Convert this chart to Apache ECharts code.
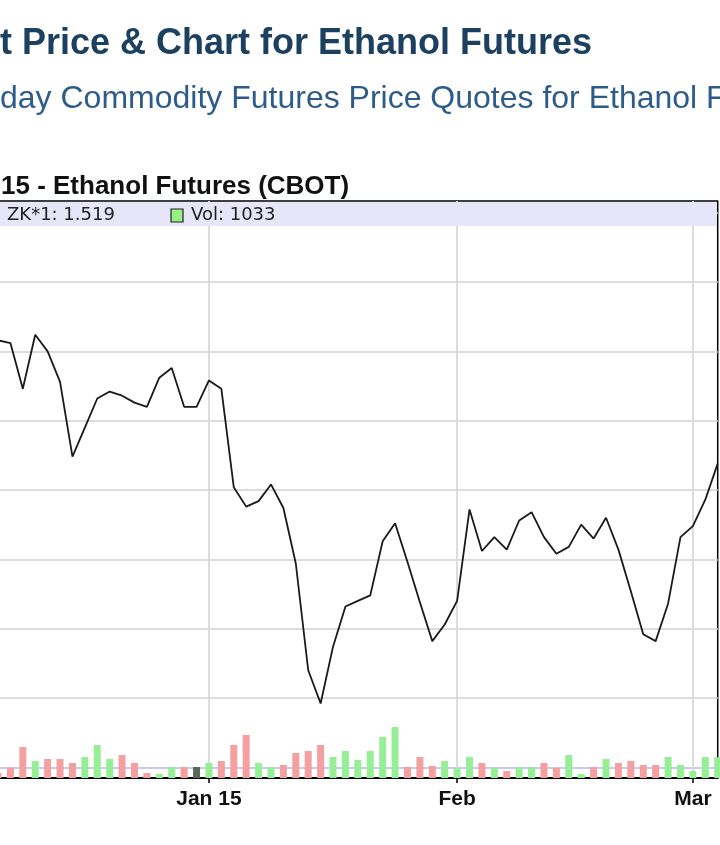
<!DOCTYPE html>
<html>
<head>
<meta charset="utf-8">
<script src="https://cdn.jsdelivr.net/npm/echarts@6/dist/echarts.min.js"></script>
<style>
  html, body { margin: 0; padding: 0; background: #fff; }
  #chart { width: 720px; height: 845px; }
</style>
</head>
<body>
<div id="chart"></div>
<script>
// trading days shown in the window (Dec 2014 - Mar 2015)
const dates = [
  '2014-12-08', '2014-12-09', '2014-12-10', '2014-12-11', '2014-12-12', '2014-12-15', '2014-12-16',
  '2014-12-17', '2014-12-18', '2014-12-19', '2014-12-22', '2014-12-23', '2014-12-24', '2014-12-26',
  '2014-12-29', '2014-12-30', '2014-12-31',
  '2015-01-02', '2015-01-05', '2015-01-06', '2015-01-07', '2015-01-08', '2015-01-09', '2015-01-12',
  '2015-01-13', '2015-01-14', '2015-01-15', '2015-01-16', '2015-01-20', '2015-01-21', '2015-01-22',
  '2015-01-23', '2015-01-26', '2015-01-27', '2015-01-28', '2015-01-29', '2015-01-30',
  '2015-02-02', '2015-02-03', '2015-02-04', '2015-02-05', '2015-02-06', '2015-02-09', '2015-02-10',
  '2015-02-11', '2015-02-12', '2015-02-13', '2015-02-17', '2015-02-18', '2015-02-19', '2015-02-20',
  '2015-02-23', '2015-02-24', '2015-02-25', '2015-02-26', '2015-02-27',
  '2015-03-02', '2015-03-03', '2015-03-04'
];

const prices = [
  1.608, 1.606, 1.573, 1.612, 1.600, 1.578, 1.524, 1.545, 1.566, 1.571, 1.568, 1.563, 1.560, 1.581,
  1.588, 1.560, 1.560,
  1.579, 1.573, 1.502, 1.488, 1.492, 1.504, 1.487, 1.447, 1.370, 1.346, 1.387, 1.416, 1.420, 1.424,
  1.463, 1.476, 1.448, 1.419, 1.391, 1.403,
  1.420, 1.486, 1.456, 1.466, 1.457, 1.478, 1.484, 1.466, 1.454, 1.459, 1.475, 1.465, 1.480, 1.457,
  1.427, 1.396, 1.391, 1.418, 1.466,
  1.474, 1.493, 1.519
];

const volumes = [
  250, 530, 1550, 850, 950, 950, 750, 1050, 1650, 950, 1150, 750, 250, 200, 550, 550, 550,
  750, 850, 1650, 2150, 750, 550, 650, 1250, 1350, 1650, 1050, 1350, 900, 1350, 2050, 2550, 550,
  1050, 600, 850,
  500, 1050, 750, 500, 350, 550, 550, 750, 500, 1150, 200, 550, 950, 750, 850, 650, 650, 1050, 650,
  350, 1050, 1033
];

const tickDates = ['2015-01-02', '2015-02-02', '2015-03-02'];
const tickLabels = ['Jan 15', 'Feb', 'Mar'];

const chart = echarts.init(document.getElementById('chart'));

const isMonthStart = (index, value) => tickDates.indexOf(dates[index]) >= 0;

const barColor = (params) => {
  const i = params.dataIndex;
  if (i === 0) return '#f4a0a0';
  if (prices[i] > prices[i - 1]) return '#96ee96';
  if (prices[i] < prices[i - 1]) return '#f4a0a0';
  return '#5a6a5a';
};

const lastPrice = prices[prices.length - 1];
const lastVol = volumes[volumes.length - 1];

chart.setOption({
  animation: false,
  backgroundColor: '#fff',
  title: [
    {
      text: 't Price & Chart for Ethanol Futures',
      left: 0, top: 26, padding: 0,
      textStyle: { fontFamily: 'Liberation Sans', fontWeight: 'bold', fontSize: 36, color: '#1c4160' }
    },
    {
      text: 'day Commodity Futures Price Quotes for Ethanol F',
      left: 0, top: 83, padding: 0,
      textStyle: { fontFamily: 'Liberation Sans', fontWeight: 'normal', fontSize: 32, color: '#2e5c8a' }
    },
    {
      text: '15 - Ethanol Futures (CBOT)',
      left: 1, top: 174, padding: 0,
      textStyle: { fontFamily: 'Liberation Sans', fontWeight: 'bold', fontSize: 26, color: '#111' }
    }
  ],
  grid: [
    { left: -2, right: 2.3, top: 212.7, bottom: 77.7, outerBoundsMode: 'none' },
    { left: -2, right: 2.3, top: 201, bottom: 67, outerBoundsMode: 'none',
      show: true, borderColor: '#000', borderWidth: 1.5, backgroundColor: 'transparent' }
  ],
  xAxis: [
    { type: 'category', gridIndex: 0, data: dates, boundaryGap: false, show: false },
    {
      type: 'category', gridIndex: 1, data: dates, boundaryGap: false,
      axisLine: { show: true, lineStyle: { color: '#000', width: 2 } },
      axisTick: { show: true, interval: isMonthStart, length: 5, lineStyle: { color: '#000', width: 1.5 } },
      axisLabel: {
        interval: isMonthStart,
        margin: 11,
        fontFamily: 'Liberation Sans', fontWeight: 'bold', fontSize: 21, color: '#111',
        formatter: (v) => tickLabels[tickDates.indexOf(v)]
      },
      splitLine: { show: true, interval: isMonthStart, lineStyle: { color: '#dcdcdc', width: 2 } }
    }
  ],
  yAxis: [
    {
      type: 'value', gridIndex: 0, min: 1.30, max: 1.70, interval: 0.05,
      axisLine: { show: false }, axisTick: { show: false }, axisLabel: { show: false },
      splitLine: {
        show: true,
        lineStyle: {
          width: 2,
          color: ['#cacaee', '#dcdcdc', '#dcdcdc', '#dcdcdc', '#dcdcdc', '#dcdcdc', '#dcdcdc', '#dcdcdc', '#dcdcdc']
        }
      }
    },
    {
      type: 'value', gridIndex: 1, min: 0, max: 28850,
      axisLine: { show: false }, axisTick: { show: false }, axisLabel: { show: false },
      splitLine: { show: false }
    }
  ],
  series: [
    {
      name: 'Vol',
      type: 'bar',
      xAxisIndex: 1, yAxisIndex: 1,
      data: volumes,
      barWidth: 7,
      itemStyle: { color: barColor }
    },
    {
      name: 'ZK*1',
      type: 'line',
      xAxisIndex: 0, yAxisIndex: 0,
      data: prices,
      symbol: 'none',
      clip: false,
      lineStyle: { color: '#1a1a1a', width: 1.8 }
    }
  ],
  graphic: [
    {
      type: 'rect', z: 10,
      shape: { x: 0, y: 202, width: 717, height: 24 },
      style: { fill: '#e6e6f8' }
    },
    {
      type: 'text', z: 11, x: 7, y: 215,
      style: {
        text: 'ZK*1: ' + lastPrice.toFixed(3),
        fontFamily: 'DejaVu Sans', fontSize: 18, fill: '#222', verticalAlign: 'middle'
      }
    },
    {
      type: 'rect', z: 11,
      shape: { x: 171, y: 209, width: 12, height: 13 },
      style: { fill: '#99ee88', stroke: '#222', lineWidth: 1.2 }
    },
    {
      type: 'text', z: 11, x: 191, y: 215,
      style: {
        text: 'Vol: ' + lastVol,
        fontFamily: 'DejaVu Sans', fontSize: 18, fill: '#222', verticalAlign: 'middle'
      }
    }
  ]
});
</script>
</body>
</html>
